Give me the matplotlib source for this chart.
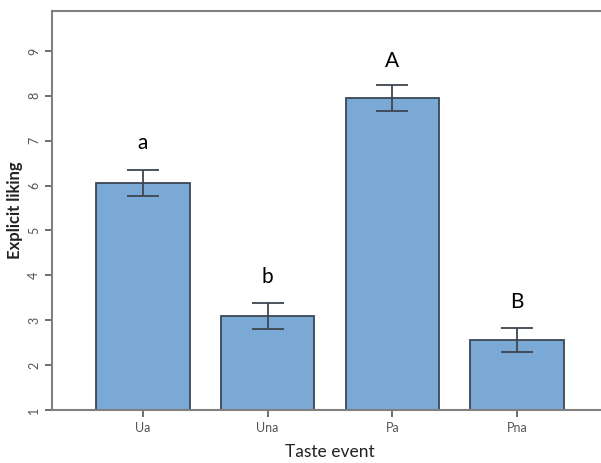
import numpy as np
import matplotlib.pyplot as plt

# data
events = ["Ua", "Una", "Pa", "Pna"]
liking = [6.06, 3.09, 7.96, 2.56]
sem = [0.29, 0.29, 0.29, 0.27]
letters = ["a", "b", "A", "B"]
letter_y = [6.95, 3.97, 8.77, 3.41]

plt.rcParams['font.family'] = ['Lato', 'DejaVu Sans']

fig = plt.figure(figsize=(6.01, 4.63), dpi=100)
# axes runs a bit past the right edge, like the cropped original
ax = fig.add_axes([52/601, 53/463, 556/601, 399/463])

x = np.arange(len(events))
ax.bar(x, np.array(liking) - 1, bottom=1, width=0.75, color="#7BA9D6",
       edgecolor="#3a4655", linewidth=1.3, zorder=2)
ax.errorbar(x, liking, yerr=sem, fmt="none", ecolor="#3d4650",
            elinewidth=1.3, capsize=11.5, capthick=1.3, zorder=3)

for xi, lt, ly in zip(x, letters, letter_y):
    ax.text(xi, ly, lt, ha="center", va="center", fontsize=15, color="black")

ax.set_xlim(-0.728, 3.728)
ax.set_ylim(1, 9.89)
ax.set_xticks(x)
ax.set_xticklabels(events)
ax.set_yticks(range(1, 10))
ax.tick_params(axis="both", colors="#555555", labelsize=9, width=1.2, length=5)
for lab in ax.get_yticklabels():
    lab.set_rotation(90)
    lab.set_va("center")

for s in ["top", "left", "bottom"]:
    ax.spines[s].set_color("#808080")
    ax.spines[s].set_linewidth(1.5)
ax.spines["right"].set_visible(False)

ax.set_xlabel("Taste event", fontsize=12.5, color="#222222", labelpad=7)
ax.set_ylabel("Explicit liking", fontsize=12, color="#222222", fontweight="bold", labelpad=4)

fig.savefig("out.png", dpi=100)
